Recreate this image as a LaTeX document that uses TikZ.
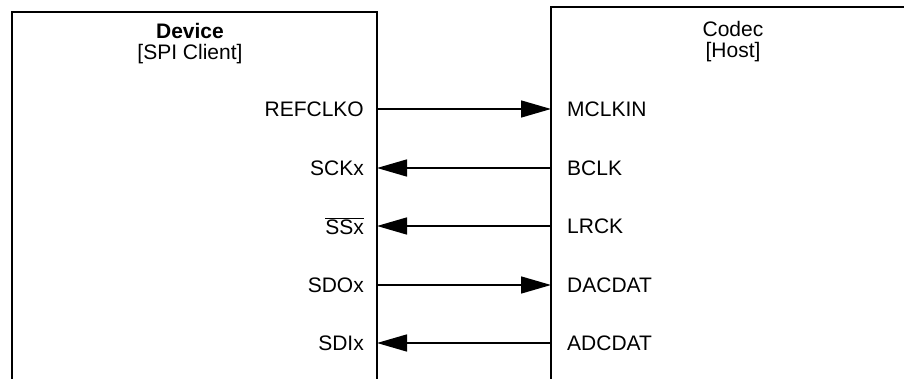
\documentclass[tikz,border=0pt]{standalone}
\usepackage{fontspec}
\setmainfont{Liberation Sans}
\usetikzlibrary{arrows.meta}

\begin{document}
\begin{tikzpicture}[
    x=1pt, y=-1pt,
    every node/.style={font=\fontsize{21}{21}\selectfont, inner sep=0pt},
    boxline/.style={line width=2pt},
    sig/.style={line width=1.5pt, -{Triangle[length=30pt,width=17pt]}},
    pinl/.style={anchor=east},
    pinr/.style={anchor=west}
]
\useasboundingbox (0,0) rectangle (904,379);

% Device block (open at the bottom)
\draw[boxline] (12,379) |- (377,12) -- (377,379);
\node[align=center] (devtitle) at (190,44) {\textbf{Device}\\{}[SPI Client]};

% Codec block (open at the bottom and right)
\draw[boxline] (551,379) |- (904,7);
\node[align=center] (codtitle) at (733,42) {Codec\\{}[Host]};

% Pin names
\node[pinl] (refclko) at (364,109) {REFCLKO};
\node[pinl] (sckx)    at (364,168) {SCKx};
\node[pinl] (ssx)     at (364,226) {$\overline{\mbox{SSx}}$};
\node[pinl] (sdox)    at (364,285) {SDOx};
\node[pinl] (sdix)    at (364,343) {SDIx};

\node[pinr] (mclkin) at (567,109) {MCLKIN};
\node[pinr] (bclk)   at (567,168) {BCLK};
\node[pinr] (lrck)   at (567,226) {LRCK};
\node[pinr] (dacdat) at (567,285) {DACDAT};
\node[pinr] (adcdat) at (567,343) {ADCDAT};

% Pin points on the block edges
\coordinate (d1) at (377,109);
\coordinate (d2) at (377,168);
\coordinate (d3) at (377,226);
\coordinate (d4) at (377,285);
\coordinate (d5) at (377,343);
\coordinate (c1) at (551,109);
\coordinate (c2) at (551,168);
\coordinate (c3) at (551,226);
\coordinate (c4) at (551,285);
\coordinate (c5) at (551,343);

% Signals
\draw[sig] (d1) -- (c1);
\draw[sig] (c2) -- (d2);
\draw[sig] (c3) -- (d3);
\draw[sig] (d4) -- (c4);
\draw[sig] (c5) -- (d5);

\end{tikzpicture}
\end{document}
